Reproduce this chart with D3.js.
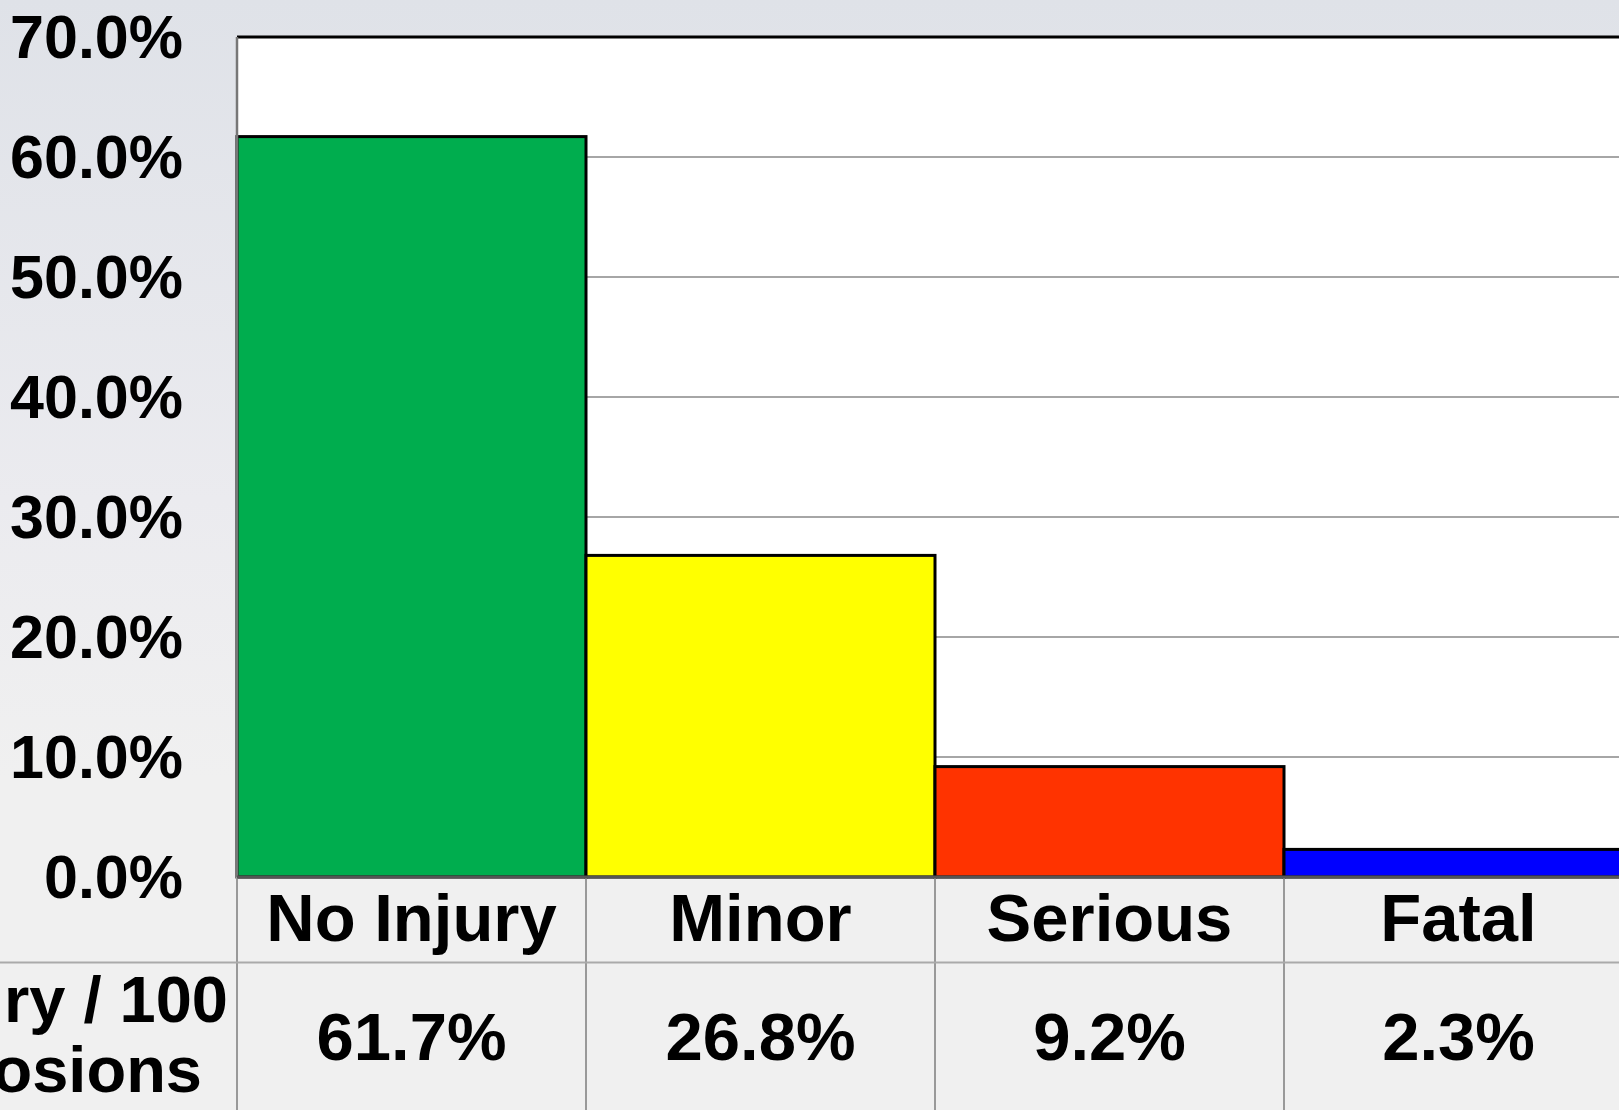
<!DOCTYPE html>
<html>
<head>
<meta charset="utf-8">
<script src="https://cdn.jsdelivr.net/npm/d3@7"></script>
<style>
  html, body { margin: 0; padding: 0; overflow: hidden; }
  svg { display: block; font-family: "Liberation Sans", Arial, sans-serif; font-weight: bold; }
</style>
</head>
<body>
<svg id="chart" width="1619" height="1110"></svg>
<script>
'use strict';

// Data
const categories = ['No Injury', 'Minor', 'Serious', 'Fatal'];
const values     = [61.7, 26.8, 9.2, 2.3];
const colors     = ['#00ad4e', '#ffff00', '#ff3300', '#0000ff'];
const yTicks     = [0, 10, 20, 30, 40, 50, 60, 70];
const rowHeader  = ['Injury / 100', 'Explosions'];

const W = 1619,
      H = 1110;

const svg = d3.select('#chart');

// background gradient
const defs = svg.append('defs');
const grad = defs.append('linearGradient')
    .attr('id', 'bg')
    .attr('x1', 0).attr('y1', 0)
    .attr('x2', 0).attr('y2', 1);
grad.append('stop').attr('offset', '0%').attr('stop-color', '#dfe2e8');
grad.append('stop').attr('offset', '45%').attr('stop-color', '#ebebef');
grad.append('stop').attr('offset', '70%').attr('stop-color', '#f0f0f0');
grad.append('stop').attr('offset', '100%').attr('stop-color', '#f0f0f0');

svg.append('rect')
    .attr('width', W).attr('height', H)
    .attr('fill', 'url(#bg)');

// scales
const x = d3.scaleBand()
    .domain(categories)
    .range([237, 237 + 4 * 349])
    .padding(0);

const y = d3.scaleLinear()
    .domain([0, 70])
    .range([877, 37]);

const x0 = x.range()[0],
      x1 = x.range()[1];

// plot area
svg.append('rect')
    .attr('x', x0).attr('y', y(70))
    .attr('width', x1 - x0).attr('height', y(0) - y(70))
    .attr('fill', '#ffffff');

// grid lines
svg.selectAll('line.grid')
    .data(yTicks.filter(d => d > 0 && d < 70))
    .enter()
    .append('line')
    .attr('class', 'grid')
    .attr('x1', x0).attr('x2', x1)
    .attr('y1', d => y(d)).attr('y2', d => y(d))
    .style('stroke', '#888888')
    .style('stroke-width', 1.6);

// top border
svg.append('line')
    .attr('x1', x0).attr('x2', x1)
    .attr('y1', y(70)).attr('y2', y(70))
    .style('stroke', '#000000')
    .style('stroke-width', 3);

// bars
svg.selectAll('rect.bar')
    .data(categories)
    .enter()
    .append('rect')
    .attr('class', 'bar')
    .attr('x', d => x(d))
    .attr('y', (d, i) => y(values[i]))
    .attr('width', x.bandwidth())
    .attr('height', (d, i) => y(0) - y(values[i]))
    .style('fill', (d, i) => colors[i])
    .style('stroke', '#000000')
    .style('stroke-width', 3);

// left border
svg.append('line')
    .attr('x1', x0).attr('x2', x0)
    .attr('y1', y(70)).attr('y2', y(0))
    .style('stroke', '#777777')
    .style('stroke-width', 2.5);

// y tick labels
svg.selectAll('text.ytick')
    .data(yTicks)
    .enter()
    .append('text')
    .attr('class', 'ytick')
    .attr('x', 183)
    .attr('y', d => y(d))
    .attr('dy', '0.35em')
    .attr('text-anchor', 'end')
    .attr('font-size', '61px')
    .attr('fill', '#000')
    .text(d => d3.format('.1f')(d) + '%');

// data table
const tableTop = y(0),
      rowSplit = 962.5;

svg.selectAll('line.col')
    .data(categories.concat(['end']))
    .enter()
    .append('line')
    .attr('class', 'col')
    .attr('x1', (d, i) => x0 + i * x.step())
    .attr('x2', (d, i) => x0 + i * x.step())
    .attr('y1', tableTop).attr('y2', H)
    .style('stroke', '#999999')
    .style('stroke-width', 2);

svg.append('line')
    .attr('x1', 0).attr('x2', W)
    .attr('y1', rowSplit).attr('y2', rowSplit)
    .style('stroke', '#aaaaaa')
    .style('stroke-width', 2);

// axis line
svg.append('line')
    .attr('x1', x0).attr('x2', x1)
    .attr('y1', tableTop).attr('y2', tableTop)
    .style('stroke', '#555555')
    .style('stroke-width', 3);

svg.selectAll('text.cat')
    .data(categories)
    .enter()
    .append('text')
    .attr('class', 'cat')
    .attr('x', d => x(d) + x.bandwidth() / 2)
    .attr('y', 941)
    .attr('text-anchor', 'middle')
    .attr('font-size', '67px')
    .attr('fill', '#000')
    .text(d => d);

svg.selectAll('text.val')
    .data(categories)
    .enter()
    .append('text')
    .attr('class', 'val')
    .attr('x', d => x(d) + x.bandwidth() / 2)
    .attr('y', 1060)
    .attr('text-anchor', 'middle')
    .attr('font-size', '67px')
    .attr('fill', '#000')
    .text((d, i) => d3.format('.1f')(values[i]) + '%');

// row header (cut off at the left edge, as in the original)
svg.selectAll('text.rowhead')
    .data(rowHeader)
    .enter()
    .append('text')
    .attr('class', 'rowhead')
    .attr('x', (d, i) => i === 0 ? 228 : 202)
    .attr('y', (d, i) => 1022 + i * 70)
    .attr('text-anchor', 'end')
    .attr('font-size', '65px')
    .attr('fill', '#000')
    .text(d => d);
</script>
</body>
</html>
